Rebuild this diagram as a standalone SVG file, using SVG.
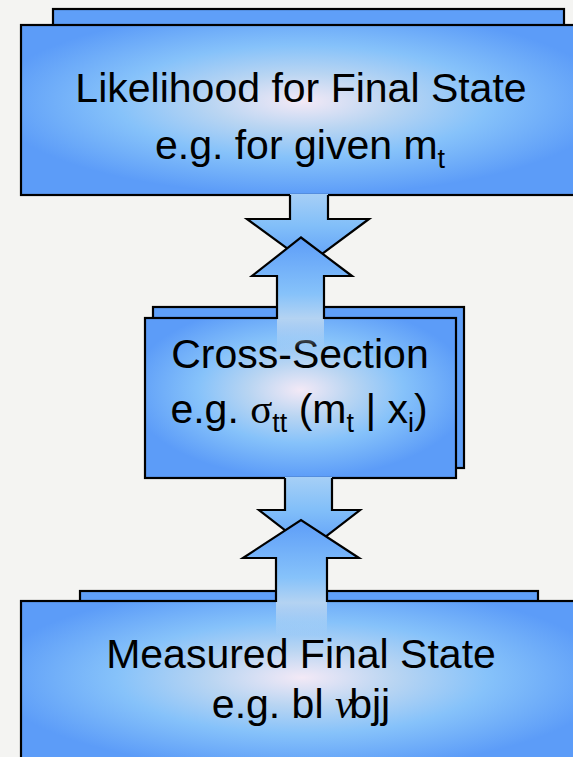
<svg xmlns="http://www.w3.org/2000/svg" width="573" height="757" viewBox="0 0 573 757">
<defs>
<radialGradient id="boxg" cx="0.5" cy="0.45" r="0.55">
<stop offset="0" stop-color="#f3e9f6"/>
<stop offset="0.3" stop-color="#b9d5f2"/>
<stop offset="0.6" stop-color="#86c2fa"/>
<stop offset="1" stop-color="#5c9cf8"/>
</radialGradient>
<linearGradient id="downg" x1="0" y1="0" x2="0" y2="1">
<stop offset="0" stop-color="#a6cff6"/>
<stop offset="0.45" stop-color="#82bff9"/>
<stop offset="1" stop-color="#5d9df8"/>
</linearGradient>
<linearGradient id="upg1" gradientUnits="userSpaceOnUse" x1="0" y1="237.5" x2="0" y2="350">
<stop offset="0" stop-color="#5d9df8"/>
<stop offset="0.5" stop-color="#86c2fa"/>
<stop offset="0.72" stop-color="#b4d3f2"/>
<stop offset="1" stop-color="#c8dcf2" stop-opacity="0"/>
</linearGradient>
<linearGradient id="upg2" gradientUnits="userSpaceOnUse" x1="0" y1="520" x2="0" y2="635">
<stop offset="0" stop-color="#5d9df8"/>
<stop offset="0.5" stop-color="#86c2fa"/>
<stop offset="0.72" stop-color="#b4d3f2"/>
<stop offset="1" stop-color="#c8dcf2" stop-opacity="0"/>
</linearGradient>
<style>
.back{fill:#5f9ff8;stroke:#000;stroke-width:2.2}
.front{fill:url(#boxg);stroke:#000;stroke-width:2.2}
.lbl{font-family:"Liberation Sans",Arial,sans-serif;font-size:41px;fill:#000;text-anchor:middle}
.sub{font-size:27px}
.sym{font-family:"Liberation Serif","DejaVu Serif",serif}
.edge{fill:none;stroke:#000;stroke-width:2.2;stroke-linejoin:miter}
</style>
</defs>
<rect width="573" height="757" fill="#f4f4f2"/>

<g id="likelihood">
<rect class="back" x="53" y="9" width="511" height="17"/>
<rect class="front" x="21" y="25" width="562" height="170"/>
<text class="lbl" x="301" y="102" font-size="42">Likelihood for Final State</text>
<text class="lbl" x="300" y="159">e.g. for given m<tspan class="sub" dy="9">t</tspan></text>
</g>

<g id="crosssection">
<rect class="back" x="153" y="307" width="311" height="161"/>
<rect class="front" x="145" y="318" width="311" height="160"/>
<text class="lbl" x="300" y="368">Cross-Section</text>
<text class="lbl" x="299" y="423">e.g. <tspan class="sym">σ</tspan><tspan class="sub" dy="9">tt</tspan><tspan dy="-9"> (m</tspan><tspan class="sub" dy="9">t</tspan><tspan dy="-9"> | x</tspan><tspan class="sub" dy="9">i</tspan><tspan dy="-9">)</tspan></text>
</g>

<g id="measured">
<rect class="back" x="80" y="591" width="458" height="11"/>
<rect class="front" x="21" y="601" width="562" height="170"/>
<text class="lbl" x="301" y="668">Measured Final State</text>
<text class="lbl" x="301" y="718">e.g. bl <tspan class="sym" font-style="italic">ν</tspan><tspan dx="-4">bjj</tspan></text>
</g>

<g id="connectors">
<g id="down1">
<polygon points="290,194 328,194 328,219 369,219 308.5,264 247,219 290,219" fill="url(#downg)"/>
<polyline class="edge" points="290,195 290,219 247,219 308.5,264 369,219 328,219 328,195"/>
</g>
<g id="up1">
<polygon points="301,237.5 352,276 324,276 324,350 277,350 277,276 252,276" fill="url(#upg1)"/>
<polyline class="edge" points="277,319 277,276 252,276 301,237.5 352,276 324,276 324,319"/>
</g>
<g id="down2">
<polygon points="285,477 332,477 332,510 360,510 309.5,549 259,510 285,510" fill="url(#downg)"/>
<polyline class="edge" points="285,478 285,510 259,510 309.5,549 360,510 332,510 332,478"/>
</g>
<g id="up2">
<polygon points="301,520 359,558 327,558 327,635 276,635 276,558 243,558" fill="url(#upg2)"/>
<polyline class="edge" points="276,602 276,558 243,558 301,520 359,558 327,558 327,602"/>
</g>
</g>
</svg>
